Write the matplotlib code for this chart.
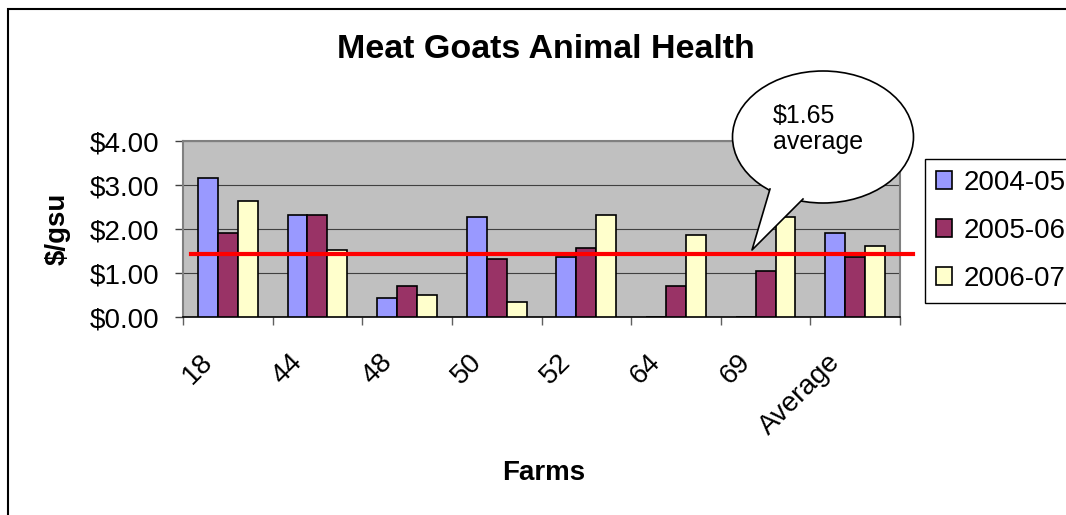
import matplotlib
matplotlib.use('Agg')
import matplotlib.pyplot as plt
import matplotlib.transforms as mtransforms
from matplotlib.patches import Ellipse, Polygon, Rectangle
from matplotlib.lines import Line2D
import numpy as np

plt.rcParams['font.family'] = ['Liberation Sans', 'DejaVu Sans']

farms = ['18', '44', '48', '50', '52', '64', '69', 'Average']
seasons = ['2004-05', '2005-06', '2006-07']
v0405 = [3.17, 2.32, 0.44, 2.27, 1.36, 0, 0, 1.91]
v0506 = [1.90, 2.32, 0.70, 1.31, 1.56, 0.70, 1.05, 1.36]
v0607 = [2.63, 1.52, 0.50, 0.35, 2.32, 1.86, 2.27, 1.61]
avg_line = 1.44
callout = '$1.65\naverage'
colors = ['#9999FF', '#993366', '#FFFFCC']

W, H = 1066, 515
fig = plt.figure(figsize=(W / 100, H / 100), dpi=100)

def fx(x):
    return x / W

def fy(y):
    return 1 - y / H

# plot area in pixels: x 183-900, y 141-317
ax = fig.add_axes([fx(183), fy(317), fx(900) - fx(183), fy(141) - fy(317)])
ax.set_facecolor('#C0C0C0')

x = np.arange(len(farms))
w = 1 / 4.5
bars = []
for i, vals in enumerate([v0405, v0506, v0607]):
    b = ax.bar(x + (i - 1) * w, vals, w, color=colors[i], edgecolor='black',
               linewidth=1.2, label=seasons[i], zorder=3)
    bars.append(b)

ax.set_xlim(-0.5, len(farms) - 0.5)
ax.set_ylim(0, 4)
ax.set_yticks([0, 1, 2, 3, 4])
ax.set_yticklabels(['$%.2f' % v for v in [0, 1, 2, 3, 4]])
ax.tick_params(axis='y', length=6, width=1, color='#404040', pad=11, labelsize=20)
ax.yaxis.grid(True, color='#404040', linewidth=0.8, zorder=0)
ax.set_axisbelow(True)

ax.set_xticks(x)
ax.set_xticklabels([])
ax.tick_params(axis='x', which='major', length=0)
ax.set_xticks(np.arange(len(farms) + 1) - 0.5, minor=True)
ax.tick_params(axis='x', which='minor', length=6, width=1, color='#606060')

for s in ['top', 'right', 'left']:
    ax.spines[s].set_color('#808080')
    ax.spines[s].set_linewidth(1.5)
ax.spines['bottom'].set_color('black')
ax.spines['bottom'].set_linewidth(1.2)

# rotated category labels
off = mtransforms.ScaledTranslation(-10 / 100, -32 / 100, fig.dpi_scale_trans)
for i, f in enumerate(farms):
    ax.text(i, 0, f, rotation=45, ha='right', va='top', fontsize=20,
            transform=ax.get_xaxis_transform() + off)

# average line
ax.plot([-0.41, 7.65], [avg_line, avg_line], color='red', linewidth=3, clip_on=False, zorder=5)

fig.text(fx(546), fy(50), 'Meat Goats Animal Health', ha='center', va='center',
         fontsize=24.5, fontweight='bold')
fig.text(fx(58), fy(229), '$/gsu', ha='center', va='center', rotation=90,
         fontsize=20, fontweight='bold')
fig.text(fx(544), fy(473), 'Farms', ha='center', va='center', fontsize=20, fontweight='bold')

leg = fig.legend(handles=[b[0] for b in bars], labels=seasons, loc='upper left',
                 bbox_to_anchor=(fx(925), fy(159)), borderaxespad=0, fontsize=20,
                 frameon=True, fancybox=False, framealpha=1, edgecolor='black',
                 handlelength=0.6, handleheight=0.6, handletextpad=0.4,
                 labelspacing=0.8, borderpad=0.38)
leg.get_frame().set_linewidth(1.0)

# speech bubble
ell = Ellipse((fx(823), fy(137)), 181 / W, 132 / H, transform=fig.transFigure,
              facecolor='white', edgecolor='black', linewidth=1.2, zorder=10)
fig.add_artist(ell)
tail = [(770, 189), (752, 250), (803, 199)]
fig.add_artist(Polygon([(fx(a), fy(b)) for a, b in tail], closed=True, transform=fig.transFigure,
                       facecolor='white', edgecolor='none', zorder=11))
fig.add_artist(Line2D([fx(a) for a, b in tail], [fy(b) for a, b in tail],
                      transform=fig.transFigure, color='black', linewidth=1.2, zorder=12))
fig.text(fx(773), fy(129), callout, ha='left', va='center', fontsize=18,
         linespacing=1.15, zorder=13)

# outer chart border
fig.add_artist(Rectangle((fx(8), fy(540)), 1100 / W, (540 - 9) / H, transform=fig.transFigure,
                         facecolor='none', edgecolor='black', linewidth=1.5, zorder=20))

fig.savefig('out.png', dpi=100)
